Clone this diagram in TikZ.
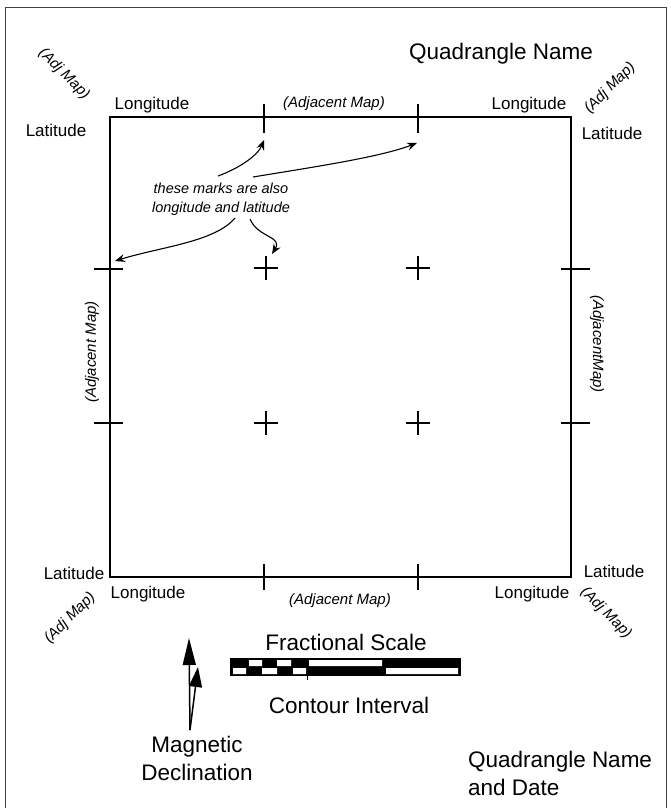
\documentclass[tikz,border=0pt]{standalone}
\usepackage{fontspec}
\setmainfont{Liberation Sans}
\usetikzlibrary{arrows.meta}
\tikzset{
  lbl/.style={font=\fontsize{17}{20}\selectfont, inner sep=0pt},
  big/.style={font=\fontsize{22.5}{28}\selectfont, inner sep=0pt},
  adj/.style={font=\fontsize{15}{17}\selectfont\itshape, inner sep=0pt},
  mapline/.style={line width=2.6pt},
  callout/.style={line width=1.1pt, -{Stealth[length=10pt,width=8pt,inset=3.5pt]}},
  declarrow/.style={line width=1.5pt},
}
\begin{document}
\begin{tikzpicture}[x=1pt,y=-1pt]
\useasboundingbox (0,0) rectangle (671,808);
\draw[black!75, line width=1pt] (5.5,8) rectangle (666,812);
% neat line of the quadrangle
\draw[mapline] (110,117) rectangle (571,577);
\foreach \x in {264,418} {\draw[mapline] (\x,104) -- (\x,133); \draw[mapline] (\x,564) -- (\x,590);}
\foreach \y in {269,423} {\draw[mapline] (94,\y) -- (123,\y); \draw[mapline] (561,\y) -- (590,\y);}
\foreach \x in {266,418} \foreach \y in {268,423} {\draw[mapline] (\x-12,\y) -- (\x+12,\y) (\x,\y-12) -- (\x,\y+12);}
% corner and edge labels
\node[big] (qname) at (501,54) {Quadrangle Name};
\node[lbl] (lonTL) at (152,105) {Longitude};
\node[lbl] (latTL) at (56,130) {Latitude};
\node[adj, rotate=-45] (adjTL) at (64,74) {(Adj Map)};
\node[lbl] (lonTR) at (529,105) {Longitude};
\node[lbl] (latTR) at (612,133) {Latitude};
\node[adj, rotate=45] (adjTR) at (610,88) {(Adj Map)};
\node[adj] (adjT) at (334,104) {(Adjacent Map)};
\node[adj, rotate=90] (adjL) at (92,352) {(Adjacent Map)};
\node[adj, rotate=-90] (adjR) at (597,344) {(AdjacentMap)};
\node[lbl] (latBL) at (74,573) {Latitude};
\node[lbl] (lonBL) at (148,594) {Longitude};
\node[adj, rotate=45] (adjBL) at (70,618) {(Adj Map)};
\node[lbl] (latBR) at (614,571) {Latitude};
\node[lbl] (lonBR) at (532,594) {Longitude};
\node[adj, rotate=-45] (adjBR) at (606,613) {(Adj Map)};
\node[adj] (adjB) at (340,601) {(Adjacent Map)};
% callout
\node[adj, font=\fontsize{14.5}{19}\selectfont\itshape, align=center] (note) at (221,199) {these marks are also\\longitude and latitude};
\coordinate (n1) at (218,176); \coordinate (n2) at (253,177);
\coordinate (n3) at (235,218); \coordinate (n4) at (250,219);
\coordinate (tick1) at (264,140); \coordinate (tick2) at (417,143);
\coordinate (ltick) at (115,261); \coordinate (cross) at (272,254);
\draw[callout] (n1) .. controls (240,168) and (258,155) .. (tick1);
\draw[callout] (n2) .. controls (320,166) and (380,157) .. (tick2);
\draw[callout] (n3) .. controls (215,242) and (160,247) .. (ltick);
\draw[callout] (n4) .. controls (258,238) and (283,236) .. (cross);
% scale bar
\node[big] (fscale) at (346,642) {Fractional Scale};
\fill (230,658) rectangle (461,676);
\fill[white] (249,660) rectangle (262,666) (277,660) rectangle (291,666) (309,660) rectangle (382,666);
\fill[white] (233,668) rectangle (246,674) (262,668) rectangle (277,674) (293,668) rectangle (306,674) (386,668) rectangle (458,674);
\draw[line width=1pt] (307,676) -- (307,680);
\node[big] (cint) at (349,705) {Contour Interval};
% declination
\coordinate (mbase) at (190,730);
\coordinate (truen) at (189,638);
\coordinate (magn) at (198,667);
\draw[declarrow, -{Triangle[length=27pt,width=13pt]}] (mbase) -- (truen);
\draw[declarrow, -{Triangle[length=20pt,width=13pt]}] (mbase) -- (magn);
\node[big, align=center] (magdec) at (197,758) {Magnetic\\Declination};
\node[big, align=left, anchor=west] (qdate) at (468,773) {Quadrangle Name\\and Date};
\end{tikzpicture}
\end{document}
